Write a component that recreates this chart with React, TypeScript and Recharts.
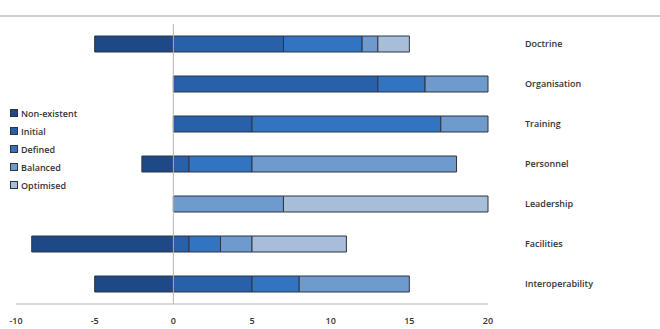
import React from "react"
import { BarChart, Bar, XAxis, YAxis, ReferenceLine } from "recharts"

// capability areas, top to bottom
const areas = ["Doctrine", "Organisation", "Training", "Personnel", "Leadership", "Facilities", "Interoperability"]

// maturity levels (Non-existent is drawn left of zero)
const nonExistent = [-5, 0, 0, -2, 0, -9, -5]
const initial = [7, 13, 5, 1, 0, 1, 5]
const defined = [5, 3, 12, 4, 0, 2, 3]
const balanced = [1, 4, 3, 13, 7, 2, 7]
const optimised = [2, 0, 0, 0, 13, 6, 0]

const xTicks = [-10, -5, 0, 5, 10, 15, 20]

const SERIES = [
  { key: "Non-existent", values: nonExistent, color: "#1d4a86" },
  { key: "Initial", values: initial, color: "#2860aa" },
  { key: "Defined", values: defined, color: "#3274c2" },
  { key: "Balanced", values: balanced, color: "#6f9acd" },
  { key: "Optimised", values: optimised, color: "#a7bedb" },
]

const data = areas.map((name, i) => {
  const row: any = { name }
  SERIES.forEach((s) => (row[s.key] = s.values[i]))
  return row
})

const FONT = "'Open Sans', 'Liberation Sans', sans-serif"

function LegendBox() {
  return (
    <div
      style={{
        position: "absolute",
        left: 10,
        top: 104,
        fontFamily: FONT,
        fontSize: 9,
        fontWeight: 600,
        color: "#333",
      }}
    >
      {SERIES.map((s) => (
        <div key={s.key} style={{ display: "flex", alignItems: "center", height: 18 }}>
          <span
            style={{
              display: "inline-block",
              width: 6,
              height: 6,
              background: s.color,
              border: "1px solid #333",
              marginRight: 3,
            }}
          />
          {s.key}
        </div>
      ))}
    </div>
  )
}

export default function App() {
  return (
    <div style={{ position: "absolute", left: 0, top: 0, width: 660, height: 329, background: "#fff" }}>
      <div style={{ position: "absolute", left: 0, top: 15, width: 660, height: 2, background: "#cfcfcf" }} />
      <BarChart
        width={660}
        height={329}
        data={data}
        layout="vertical"
        stackOffset="sign"
        barSize={16}
        margin={{ top: 24, right: 0, bottom: 0, left: 16 }}
      >
        <XAxis
          type="number"
          domain={[-10, 20]}
          ticks={xTicks}
          interval={0}
          tickLine={false}
          axisLine={{ stroke: "#b5b5b5" }}
          tickMargin={8}
          height={25}
          tick={{ fontSize: 9, fontWeight: 600, fill: "#333", fontFamily: FONT }}
        />
        <YAxis
          type="category"
          dataKey="name"
          orientation="right"
          width={172}
          axisLine={false}
          tickLine={false}
          tickSize={0}
          tickMargin={37}
          tick={{ fontSize: 9, fontWeight: 600, fill: "#333", fontFamily: FONT, textAnchor: "start" }}
        />
        <ReferenceLine x={0} stroke="#b5b5b5" />
        {SERIES.map((s) => (
          <Bar
            key={s.key}
            dataKey={s.key}
            stackId="a"
            fill={s.color}
            stroke="#2f3540"
            strokeWidth={1}
            isAnimationActive={false}
          />
        ))}
      </BarChart>
      <LegendBox />
    </div>
  )
}
